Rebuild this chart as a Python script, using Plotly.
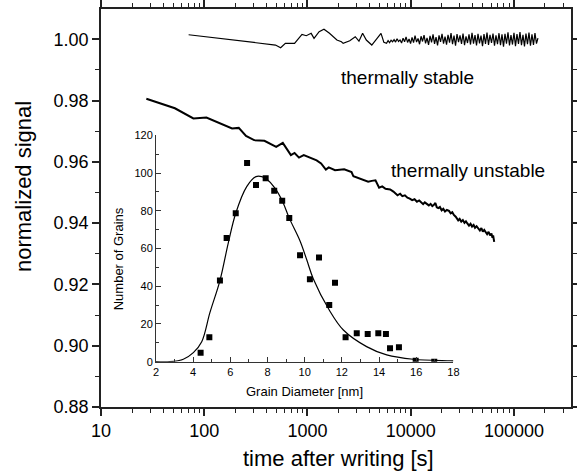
import plotly.graph_objects as go

FONT = "Liberation Sans, Arial, sans-serif"

# ---- main panel: thermally unstable (time [s], normalized signal)
unstable_t = [27.5, 52, 78.5, 105, 186, 216, 254, 304, 383, 498, 577, 691, 750, 828, 921,
              1130, 1227, 1355, 1508, 1607, 1849, 2270, 2673, 2787, 3152, 3500, 3873, 4200,
              4560, 4947, 5300, 5700, 6324, 6800, 7452, 7900, 8300, 8790, 9300, 9800, 10330,
              10900, 11500, 12100, 12700, 13200, 13700, 14390, 15000, 15600, 16200, 16800,
              17350, 17900, 18500, 19200, 19950, 20700, 21500, 22400, 23500, 24400, 25300,
              26200, 27300, 28850, 29800, 30900, 32000, 33200, 34300, 35400, 36700, 38000,
              39300, 40700, 42000, 43500, 45300, 46800, 48400, 50000, 51600, 53300, 55000,
              56800, 58700, 60600, 62000, 62900, 63600, 64400]
unstable_v = [0.9806, 0.9775, 0.9742, 0.9745, 0.9709, 0.9711, 0.9685, 0.9671, 0.9669, 0.9649,
              0.9662, 0.9622, 0.9629, 0.9614, 0.9622, 0.9608, 0.9605, 0.9595, 0.9575, 0.9582,
              0.9573, 0.9576, 0.9567, 0.9553, 0.9546, 0.9541, 0.9535, 0.9538, 0.9540, 0.9516,
              0.9520, 0.9512, 0.9510, 0.9503, 0.9491, 0.9496, 0.9488, 0.9491, 0.9483, 0.9480,
              0.9475, 0.9478, 0.9470, 0.9474, 0.9469, 0.9462, 0.9468, 0.9464, 0.9458, 0.9463,
              0.9456, 0.9460, 0.9466, 0.9452, 0.9449, 0.9453, 0.9442, 0.9447, 0.9438, 0.9443,
              0.9440, 0.9432, 0.9436, 0.9427, 0.9421, 0.9409, 0.9414, 0.9405, 0.9410, 0.9401,
              0.9406, 0.9399, 0.9392, 0.9398, 0.9389, 0.9394, 0.9385, 0.9390, 0.9382, 0.9376,
              0.9384, 0.9372, 0.9378, 0.9371, 0.9364, 0.9372, 0.9360, 0.9366, 0.9352, 0.9360,
              0.9345, 0.9339]

# ---- main panel: thermally stable
stable_t = [70.6, 490, 550, 611, 750, 885, 975, 1086, 1158, 1297, 1445, 1634, 1928, 2134,
            2218, 2570, 2904, 3155, 3422, 3716, 4200, 4750, 5160, 5500, 5840,
            6039, 6244, 6456, 6676, 6903, 7137, 7380, 7631, 7890, 8159, 8436, 8723, 9019,
            9326, 9643, 9971, 10310, 10660, 11023, 11397, 11785, 12186, 12600, 13028, 13471,
            13929, 14403, 14893, 15399, 15923, 16464, 17024, 17603, 18201, 18820, 19460,
            20121, 20806, 21513, 22245, 23001, 23783, 24592, 25428, 26292, 27186, 28110,
            29066, 30055, 31077, 32133, 33226, 34355, 35523, 36731, 37980, 39271, 40607,
            41987, 43415, 44891, 46417, 47995, 49627, 51315, 53059, 54863, 56729, 58657,
            60652, 62714, 64846, 67051, 69331, 71688, 74125, 76646, 79251, 81946, 84732,
            87613, 90592, 93672, 96857, 100150, 103555, 107076, 110717, 114481, 118374,
            122398, 126560, 130863, 135312, 139913, 144670, 149588, 154674, 159933, 165371,
            170994]
stable_v = [1.0015, 0.99814, 0.99725, 0.99869, 0.99869, 1.00163, 1.00118, 1.00196, 1.00033,
            1.00248, 1.00327, 1.00196, 0.99977, 0.99922, 0.99869, 0.99954, 1.00085, 0.99940,
            1.00196, 0.99977, 0.99814, 1.00033, 1.00196, 0.99900, 0.99869,
            0.9996, 0.9989, 0.9997, 0.9992, 0.9999, 0.9991, 1.0002, 0.9993, 0.9998,
            0.9988, 1.0004, 0.9992, 1.0008, 0.9990, 1.0001, 0.9986, 1.0006, 0.9989, 1.0012,
            0.9991, 1.0003, 0.9984, 1.0010, 0.9993, 1.0014, 0.9987, 1.0005, 0.9982, 1.0011,
            0.9990, 1.0016, 0.9985, 1.0007, 0.9980, 1.0013, 0.9992, 1.0018, 0.9986, 1.0009,
            0.9983, 1.0015, 0.9989, 1.0020, 0.9984, 1.0012, 0.9979, 1.0017, 0.9991, 1.0013,
            0.9985, 1.0019, 0.9981, 1.0010, 0.9988, 1.0016, 0.9983, 1.0021, 0.9986, 1.0014,
            0.9980, 1.0018, 0.9987, 1.0012, 0.9978, 1.0017, 0.9985, 1.0022, 0.9982, 1.0015,
            0.9988, 1.0019, 0.9979, 1.0013, 0.9984, 1.0020, 0.9981, 1.0016, 0.9976, 1.0018,
            0.9986, 1.0023, 0.9980, 1.0014, 0.9983, 1.0021, 0.9978, 1.0017, 0.9985, 1.0024,
            0.9981, 1.0015, 0.9977, 1.0019, 0.9984, 1.0022, 0.9979, 1.0016, 0.9982, 1.0020,
            0.9986, 1.0004]

# ---- inset: grain size histogram (diameter [nm], number of grains)
grain_d = [4.40, 4.87, 5.44, 5.80, 6.29, 6.90, 7.38, 7.90, 8.36, 8.79, 9.17, 9.75, 10.28,
           10.77, 11.32, 11.63, 12.20, 12.80, 13.39, 13.96, 14.37, 14.59, 15.07, 15.97, 16.97]
grain_n = [4.8, 12.9, 43.0, 65.5, 78.7, 105.3, 93.7, 97.3, 90.6, 85.3, 76.1, 56.4, 43.7,
           55.2, 30.1, 41.9, 12.9, 15.1, 14.7, 15.1, 14.7, 7.1, 7.6, 0.5, 0.0]
fit_d = [2.0, 2.75, 3.47, 4.01, 4.46, 4.90, 5.44, 5.89, 6.29, 6.88, 7.38, 7.69, 7.95, 8.40,
         8.79, 9.17, 9.75, 10.11, 10.46, 11.32, 12.08, 13.33, 14.41, 15.84, 17.82, 18.0]
fit_n = [0.0, 0.0, 1.3, 4.8, 10.6, 26.0, 43.0, 63.0, 78.7, 92.8, 98.1, 98.1, 96.8, 92.0,
         85.3, 76.1, 64.0, 54.0, 44.0, 27.4, 16.8, 8.0, 3.6, 1.3, 0.5, 0.4]

main_xticks = [10, 100, 1000, 10000, 100000]
main_xlabels = ["10", "100", "1000", "10000", "100000"]
minor_x = [m * 10 ** k for k in range(1, 6) for m in range(2, 10)]

W, H = 577, 473
ML, MR, MT, MB = 101, 6, 9, 66
PW, PH = W - ML - MR, H - MT - MB


def px(xpix):
    return (xpix - ML) / PW


def py(ypix):
    return (H - MB - ypix) / PH


fig = go.Figure()
fig.add_trace(go.Scatter(x=stable_t, y=stable_v, mode="lines",
                         line=dict(color="black", width=1.2), showlegend=False,
                         xaxis="x", yaxis="y"))
fig.add_trace(go.Scatter(x=unstable_t, y=unstable_v, mode="lines",
                         line=dict(color="black", width=2), showlegend=False,
                         xaxis="x", yaxis="y"))
fig.add_trace(go.Scatter(x=fit_d, y=fit_n, mode="lines", line_shape="spline",
                         line=dict(color="black", width=1.2), showlegend=False,
                         xaxis="x2", yaxis="y2"))
fig.add_trace(go.Scatter(x=grain_d, y=grain_n, mode="markers",
                         marker=dict(symbol="square", size=6, color="black"),
                         showlegend=False, xaxis="x2", yaxis="y2"))

axis_font = dict(family=FONT, size=18, color="black")
inset_font = dict(family=FONT, size=11, color="black")
lc = "#222"

fig.update_layout(
    width=W, height=H,
    margin=dict(l=ML, r=MR, t=MT, b=MB, autoexpand=False),
    paper_bgcolor="white", plot_bgcolor="rgba(0,0,0,0)",
    font=dict(family=FONT, color="black"),
    xaxis=dict(type="log", range=[1, 5.553], domain=[0, 1], anchor="y", automargin=False,
               tickvals=main_xticks, ticktext=main_xlabels, tickfont=axis_font,
               ticks="outside", ticklen=7, tickwidth=1.5, tickcolor=lc, mirror="allticks",
               showline=True, linecolor=lc, linewidth=1.5, showgrid=False, zeroline=False,
               minor=dict(tickvals=minor_x, ticks="outside", ticklen=4, tickwidth=1.2,
                          tickcolor=lc, showgrid=False)),
    yaxis=dict(range=[0.88, 1.0099], domain=[0, 1], anchor="x", automargin=False,
               tick0=0.88, dtick=0.02, tickformat=".2f", tickfont=axis_font,
               ticks="outside", ticklen=7, tickwidth=1.5, tickcolor=lc, mirror="allticks",
               showline=True, linecolor=lc, linewidth=1.5, showgrid=False, zeroline=False,
               minor=dict(dtick=0.01, ticks="outside", ticklen=4, tickwidth=1.2,
                          tickcolor=lc, showgrid=False)),
    xaxis2=dict(range=[2, 18], domain=[px(156), px(453.4)], anchor="y2", automargin=False,
                tick0=2, dtick=2, tickfont=inset_font,
                ticks="inside", ticklen=5, tickwidth=1, tickcolor="#333",
                showline=True, linecolor="#333", linewidth=1, showgrid=False, zeroline=False,
                minor=dict(dtick=1, ticks="inside", ticklen=3, tickwidth=1,
                           tickcolor="#333", showgrid=False)),
    yaxis2=dict(range=[0, 120], domain=[py(361.7), py(135.3)], anchor="x2", automargin=False,
                tick0=0, dtick=20, tickfont=inset_font,
                ticks="inside", ticklen=5, tickwidth=1, tickcolor="#333",
                showline=True, linecolor="#333", linewidth=1, showgrid=False, zeroline=False,
                minor=dict(dtick=10, ticks="inside", ticklen=3, tickwidth=1,
                           tickcolor="#333", showgrid=False)),
    annotations=[
        dict(text="thermally stable", xref="paper", yref="paper",
             x=px(407.5), y=py(77.3), showarrow=False,
             font=dict(family=FONT, size=19, color="black"), xanchor="center", yanchor="middle"),
        dict(text="thermally unstable", xref="paper", yref="paper",
             x=px(468), y=py(170), showarrow=False,
             font=dict(family=FONT, size=19, color="black"), xanchor="center", yanchor="middle"),
        dict(text="time after writing [s]", xref="paper", yref="paper",
             x=px(338.5), y=py(459), showarrow=False,
             font=dict(family=FONT, size=22, color="black"), xanchor="center", yanchor="middle"),
        dict(text="normalized signal", xref="paper", yref="paper", textangle=-90,
             x=px(23.5), y=py(186.5), showarrow=False,
             font=dict(family=FONT, size=22, color="black"), xanchor="center", yanchor="middle"),
        dict(text="Grain Diameter [nm]", xref="paper", yref="paper",
             x=px(304.5), y=py(391.5), showarrow=False,
             font=dict(family=FONT, size=13, color="black"), xanchor="center", yanchor="middle"),
        dict(text="Number of Grains", xref="paper", yref="paper", textangle=-90,
             x=px(118.3), y=py(259), showarrow=False,
             font=dict(family=FONT, size=13, color="black"), xanchor="center", yanchor="middle"),
    ],
)

fig.write_html("out.html", config={"displayModeBar": False},
               post_script="document.body.style.margin='0';document.body.style.overflow='hidden';")
